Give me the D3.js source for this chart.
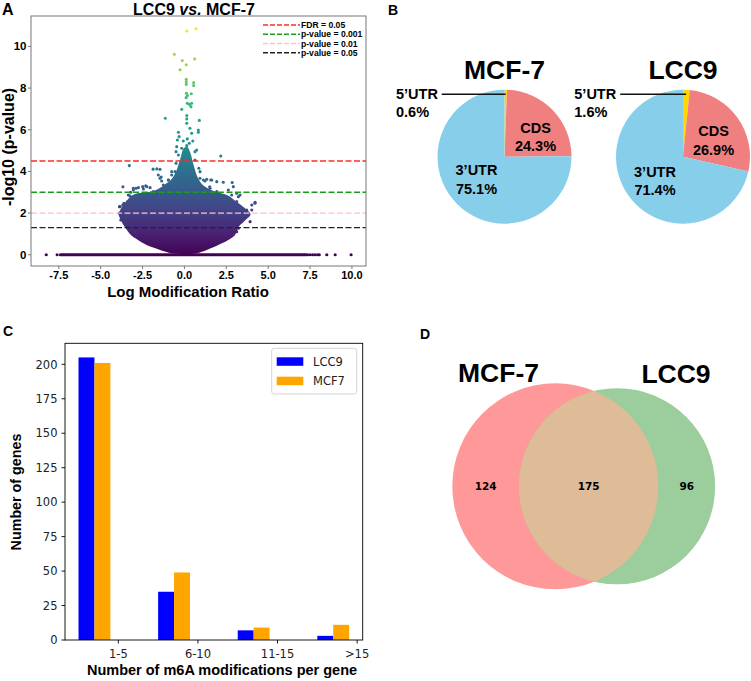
<!DOCTYPE html>
<html><head><meta charset="utf-8">
<script src="https://cdn.jsdelivr.net/npm/d3@7"></script>
<style>
body{margin:0;background:#fff;}
svg{display:block;}
.b{font-family:"Liberation Sans",Arial,sans-serif;font-weight:bold;}
.dj{font-family:"DejaVu Sans",sans-serif;}
</style></head>
<body>
<svg id="fig" width="751" height="681"></svg>
<script>
// ---------------- DATA ----------------
// Panel A: volcano plot
const volcanoXTicks = [-7.5, -5.0, -2.5, 0.0, 2.5, 5.0, 7.5, 10.0];
const volcanoYTicks = [0, 2, 4, 6, 8, 10];
const thresholdNames = ["FDR = 0.05", "p-value = 0.001", "p-value = 0.01", "p-value = 0.05"];
const thresholdValues = [4.5, 3, 2, 1.3];
// dense cloud: upper outline (left -> right) and lower outline (right -> left)
const cloudTop = [[-3.92,1.95],[-3.8,2.2],[-3.55,2.5],[-3.2,2.8],[-2.8,2.95],[-2.2,3.0],[-1.6,3.15],[-1.2,3.35],[-0.8,3.6],[-0.5,4.0],[-0.25,4.6],[-0.05,5.1],[0.15,5.2],[0.35,4.9],[0.55,4.3],[0.8,3.7],[1.1,3.35],[1.5,3.15],[2.0,3.0],[2.6,2.85],[3.1,2.55],[3.6,2.25],[3.95,1.95]];
const cloudBottom = [[3.7,1.7],[3.22,1.32],[3.02,0.95],[2.7,0.75],[2.23,0.55],[1.8,0.38],[1.33,0.23],[0.73,0.07],[0,0.03],[-0.76,0.07],[-1.45,0.23],[-2.0,0.38],[-2.45,0.55],[-2.9,0.78],[-3.2,0.95],[-3.55,1.32],[-3.82,1.7]];
// individual sparse points
const sparsePoints = [[0.14,10.74],[0.69,10.85],[-0.6,9.62],[-0.13,9.32],[0.61,9.40],[0.11,9.12],[-0.26,8.88],
[0.11,8.42],[0.11,8.31],[0.11,8.18],[0.55,8.26],[0.55,8.12],[0.12,7.75],[0.18,7.64],[0.1,7.54],[0.41,7.73],
[0.17,7.27],[0.29,7.22],[0.43,7.27],[0.39,7.11],[-0.16,6.98],[-1.14,6.55],[0.89,6.45],[0.14,6.68],[0.14,6.52],[0.14,6.31],
[0.33,6.07],[0.43,5.83],[0.83,5.99],[0.83,5.88],[-0.36,5.88],[-0.32,5.67],[-0.42,5.51],[-0.07,5.46],[0.17,5.56],[0.29,5.35],[0.5,5.46],
[-0.46,5.19],[-0.16,5.11],[0.14,5.24],[0.63,4.95],[-0.5,4.95],
[-3.29,4.28],[2.17,4.74],[-1.56,3.83],[-1.46,4.1],[-0.76,3.99],[-0.96,3.59],[0.93,3.99],[1.13,3.59],[1.33,3.62],[2.32,3.48],
[2.62,3.11],[2.82,2.87],[4.22,2.52],[4.02,2.39],[3.72,2.15],[3.82,1.99],[-2.49,3.27],[-2.25,3.27],[-2.89,3.19],[-3.05,3.11],
[-3.25,2.82],[-3.38,2.55],[-3.68,2.39],[-3.88,2.31],[-3.84,1.99],[3.32,2.87],[3.12,2.55],[2.92,3.27],[1.93,3.51],[1.63,3.59],
[-1.26,3.35],[-0.36,4.79],[-0.5,4.39],[0.73,5.03],[0.63,4.55],[-1.87,4.11],[-1.39,3.73],[0.86,4.15],[2.85,3.47],[-3.67,3.26],[-2.31,3.31],[1.51,3.26],[1.91,2.95],
[-1.65,4.12],[-1.46,3.67],[-1.36,3.54],[-0.96,3.59],[-0.76,3.83],[-0.56,3.99],[0.53,3.99],[0.93,3.67],[1.23,3.54],[1.57,3.59],
[3.12,2.95],[3.22,2.79],[4.21,2.47],[-3.05,3.19],[-2.75,3.22],[-2.45,3.16],[-2.05,3.22],[-3.35,2.87],[-3.21,3.0],[-3.61,2.47],
[-3.84,2.31],[-3.89,1.99],[-3.8,1.67],[4.02,2.15],[3.82,1.91],[3.92,1.59],[3.42,1.59],[3.22,1.27],[3.12,1.11],[-3.25,1.43],[-3.15,1.19],
[-1.06,3.35],[-0.86,3.11],[-1.26,3.11],[0.73,3.35],[1.13,3.11],[1.53,3.19],[1.93,3.03],[2.13,2.87],[-2.25,2.95],[-1.86,3.03]];
const zeroRowRange = [-7.4, 7.25];
const zeroRowPoints = [-8.25, -7.6, 7.35, 7.5, 7.65, 7.8, 7.95, 8.05, 8.5, 9.0, 9.95];

// Panel B: pies
const regionNames = ["5\u2019UTR", "CDS", "3\u2019UTR"];
const mcf7Share = [0.6, 24.3, 75.1];
const lcc9Share = [1.6, 26.9, 71.4];

// Panel C: bars
const bins = ["1-5", "6-10", "11-15", ">15"];
const lcc9Genes = [205, 35, 7, 3];
const mcf7Genes = [201, 49, 9, 11];
const barYTicks = [0, 25, 50, 75, 100, 125, 150, 175, 200];

// Panel D: venn
const vennSets = ["MCF-7", "LCC9"];
const vennCounts = [124, 175, 96]; // MCF-7 only, both, LCC9 only

// ---------------- DRAW ----------------
const svg = d3.select("#fig");
const defs = svg.append("defs");

// ===== Panel A =====
const xA = d3.scaleLinear().domain([-9.16, 10.84]).range([31, 366]);
const yA = d3.scaleLinear().domain([-0.54, 11.46]).range([266, 16]);
const vmax = 10.85;
const col = v => d3.interpolateViridis(Math.max(0, Math.min(1, v / vmax)));
const gA = svg.append("g");

const grad = defs.append("linearGradient").attr("id","vgrad").attr("gradientUnits","userSpaceOnUse")
  .attr("x1",0).attr("x2",0).attr("y1",yA(0)).attr("y2",yA(vmax));
d3.range(0,1.0001,0.1).forEach(t=>grad.append("stop").attr("offset",t).attr("stop-color",d3.interpolateViridis(t)));
defs.append("clipPath").attr("id","clipA").append("rect").attr("x",31).attr("y",16).attr("width",335).attr("height",250);
const plotA = gA.append("g").attr("clip-path","url(#clipA)");

// dense cloud
const cloudOutline = cloudTop.concat(cloudBottom);
plotA.append("path").datum(cloudOutline)
  .attr("d", d3.line().x(d=>xA(d[0])).y(d=>yA(d[1])).curve(d3.curveCatmullRomClosed.alpha(0.5)))
  .attr("fill","url(#vgrad)");
// zero row
plotA.append("line").attr("x1",xA(zeroRowRange[0])).attr("x2",xA(zeroRowRange[1]))
  .attr("y1",yA(0)).attr("y2",yA(0)).attr("stroke",col(0)).attr("stroke-width",3.2).attr("stroke-linecap","round");
plotA.selectAll(".z").data(zeroRowPoints).join("circle")
  .attr("cx",d=>xA(d)).attr("cy",yA(0)).attr("r",1.6).attr("fill",col(0));
// sparse points
plotA.selectAll(".s").data(sparsePoints).join("circle")
  .attr("cx",d=>xA(d[0])).attr("cy",d=>yA(d[1])).attr("r",1.55).attr("fill",d=>col(d[1]));

// threshold lines
const thrColors = ["#ff2a2a","#1a9e1a","#ffc0cb","#222"];
plotA.selectAll(".t").data(thresholdValues).join("line")
  .attr("x1",31).attr("x2",366).attr("y1",d=>yA(d)).attr("y2",d=>yA(d))
  .attr("stroke",(d,i)=>thrColors[i]).attr("stroke-width",1.3).attr("stroke-dasharray","6,2.5");

// frame
gA.append("rect").attr("x",31).attr("y",16).attr("width",335).attr("height",250)
  .attr("fill","none").attr("stroke","#777").attr("stroke-width",1);
gA.selectAll(".xt").data(volcanoXTicks).join("line")
  .attr("x1",d=>xA(d)).attr("x2",d=>xA(d)).attr("y1",266).attr("y2",269).attr("stroke","#777");
gA.selectAll(".xtl").data(volcanoXTicks).join("text").attr("class","b")
  .attr("x",d=>xA(d)).attr("y",278.5).attr("text-anchor","middle").attr("font-size",11)
  .text(d=>d.toFixed(1));
gA.selectAll(".yt").data(volcanoYTicks).join("line")
  .attr("x1",28).attr("x2",31).attr("y1",d=>yA(d)).attr("y2",d=>yA(d)).attr("stroke","#777");
gA.selectAll(".ytl").data(volcanoYTicks).join("text").attr("class","b")
  .attr("x",26.5).attr("y",d=>yA(d)+4).attr("text-anchor","end").attr("font-size",11.5)
  .text(d=>d);
gA.append("text").attr("class","b").attr("x",188).attr("y",297).attr("text-anchor","middle")
  .attr("font-size",15).text("Log Modification Ratio");
gA.append("text").attr("class","b").attr("transform","translate(14,147) rotate(-90)")
  .attr("text-anchor","middle").attr("font-size",16).text("-log10 (p-value)");
const tA = gA.append("text").attr("class","b").attr("x",194).attr("y",15).attr("text-anchor","middle").attr("font-size",16);
tA.append("tspan").text("LCC9 ");
tA.append("tspan").attr("font-style","italic").text("vs.");
tA.append("tspan").text(" MCF-7");
gA.append("text").attr("class","b").attr("x",2).attr("y",15).attr("font-size",16).text("A");
const legA = gA.append("g");
thresholdNames.forEach((n,i)=>{
  const yy = 25 + i*9.25;
  legA.append("line").attr("x1",263).attr("x2",300).attr("y1",yy).attr("y2",yy)
    .attr("stroke",thrColors[i]).attr("stroke-width",1.3).attr("stroke-dasharray","5,2");
  legA.append("text").attr("class","b").attr("x",301).attr("y",yy+3).attr("font-size",8.6).text(n);
});

// ===== Panel B =====
const pieColors = ["#ffd700","#f08080","#87ceeb"];
const pieGen = d3.pie().sort(null).value(d=>d);
const arcB = d3.arc().innerRadius(0).outerRadius(67);
function drawPie(cx, cy, shares, title, lblPos, smallLbl) {
  const g = svg.append("g").attr("transform",`translate(${cx},${cy})`);
  g.selectAll("path").data(pieGen(shares)).join("path").attr("d",arcB).attr("fill",(d,i)=>pieColors[i]);
  svg.append("text").attr("class","b").attr("x",cx).attr("y",cy-77.5).attr("text-anchor","middle")
    .attr("font-size",26.5).text(title);
  [1,2].forEach(i=>{
    const p = lblPos[i];
    svg.append("text").attr("class","b").attr("x",cx+p[0]).attr("y",cy+p[1]).attr("text-anchor","middle")
      .attr("font-size",14.5).text(regionNames[i]);
    svg.append("text").attr("class","b").attr("x",cx+p[0]).attr("y",cy+p[1]+18.5).attr("text-anchor","middle")
      .attr("font-size",14.5).text(shares[i].toFixed(1)+"%");
  });
  svg.append("text").attr("class","b").attr("x",cx+smallLbl[0]).attr("y",cy-57.5).attr("font-size",14.5).text(regionNames[0]);
  svg.append("text").attr("class","b").attr("x",cx+smallLbl[0]).attr("y",cy-39.5).attr("font-size",14.5).text(shares[0].toFixed(1)+"%");
  const a0 = pieGen(shares)[0];
  const mid = (a0.startAngle+a0.endAngle)/2;
  const ly = -62.4;
  svg.append("line").attr("x1",cx+smallLbl[1]).attr("x2",cx + (-ly)*Math.tan(mid)).attr("y1",cy+ly).attr("y2",cy+ly)
    .attr("stroke","#111").attr("stroke-width",1.4);
}
drawPie(504.5, 156.7, mcf7Share, "MCF-7", [null,[31,-24],[-28,18.5]], [-108.5,-62.8]);
drawPie(683, 156.7, lcc9Share, "LCC9", [null,[30.5,-20.5],[-28,20]], [-108.7,-62.8]);
svg.append("text").attr("class","b").attr("x",388).attr("y",15).attr("font-size",14).text("B");

// ===== Panel C =====
const xC = d3.scaleLinear().domain([-0.27, 3.47]).range([65, 362.7]);
const yC = d3.scaleLinear().domain([0, 215.25]).range([640, 343.3]);
const gC = svg.append("g");
const bw = 0.2;
gC.selectAll(".bl").data(lcc9Genes).join("rect")
  .attr("x",(d,i)=>xC(i-bw/2)).attr("width",xC(bw)-xC(0)).attr("y",d=>yC(d)).attr("height",d=>yC(0)-yC(d)).attr("fill","#0000ff");
gC.selectAll(".bm").data(mcf7Genes).join("rect")
  .attr("x",(d,i)=>xC(i+bw/2)).attr("width",xC(bw)-xC(0)).attr("y",d=>yC(d)).attr("height",d=>yC(0)-yC(d)).attr("fill","#ffa500");
gC.append("rect").attr("x",65).attr("y",343.3).attr("width",297.7).attr("height",296.7)
  .attr("fill","none").attr("stroke","#000").attr("stroke-width",0.9);
gC.selectAll(".cxt").data(bins).join("line")
  .attr("x1",(d,i)=>xC(i+0.4)).attr("x2",(d,i)=>xC(i+0.4)).attr("y1",640).attr("y2",643.5).attr("stroke","#000").attr("stroke-width",0.9);
gC.selectAll(".cxl").data(bins).join("text").attr("class","dj")
  .attr("x",(d,i)=>xC(i+0.4)).attr("y",657.5).attr("text-anchor","middle").attr("font-size",11.5).attr("fill","#222").text(d=>d);
gC.selectAll(".cyt").data(barYTicks).join("line")
  .attr("x1",61.5).attr("x2",65).attr("y1",d=>yC(d)).attr("y2",d=>yC(d)).attr("stroke","#000").attr("stroke-width",0.9);
gC.selectAll(".cyl").data(barYTicks).join("text").attr("class","dj")
  .attr("x",57.5).attr("y",d=>yC(d)+4.2).attr("text-anchor","end").attr("font-size",11.5).attr("fill","#222").text(d=>d);
gC.append("text").attr("class","b").attr("x",222).attr("y",675).attr("text-anchor","middle").attr("font-size",14.5)
  .text("Number of m6A modifications per gene");
gC.append("text").attr("class","b").attr("transform","translate(21,492) rotate(-90)").attr("text-anchor","middle")
  .attr("font-size",14.3).text("Number of genes");
gC.append("rect").attr("x",271.7).attr("y",348.3).attr("width",85).attr("height",45.7).attr("rx",2.5)
  .attr("fill","#fff").attr("stroke","#d0d0d0").attr("stroke-width",0.9);
[["LCC9","#0000ff"],["MCF7","#ffa500"]].forEach((e,i)=>{
  gC.append("rect").attr("x",276.7).attr("y",357.3+i*19.4).attr("width",26.6).attr("height",8.5).attr("fill",e[1]);
  gC.append("text").attr("class","dj").attr("x",313).attr("y",366+i*19.4).attr("font-size",11.5).attr("fill","#222").text(e[0]);
});
svg.append("text").attr("class","b").attr("x",3).attr("y",336).attr("font-size",14).text("C");

// ===== Panel D =====
const k = 5.957; // px per sqrt(count)
const totA = vennCounts[0]+vennCounts[1], totB = vennCounts[1]+vennCounts[2];
const rA = k*Math.sqrt(totA), rB = k*Math.sqrt(totB);
const target = Math.PI*k*k*vennCounts[1];
function lens(d,r1,r2){
  const a1 = r1*r1*Math.acos((d*d+r1*r1-r2*r2)/(2*d*r1));
  const a2 = r2*r2*Math.acos((d*d+r2*r2-r1*r1)/(2*d*r2));
  const t = 0.5*Math.sqrt((-d+r1+r2)*(d+r1-r2)*(d-r1+r2)*(d+r1+r2));
  return a1+a2-t;
}
let lo = Math.abs(rA-rB)+0.01, hi = rA+rB-0.01;
for (let it=0; it<60; it++){ const m=(lo+hi)/2; if (lens(m,rA,rB)>target) lo=m; else hi=m; }
const dist = (lo+hi)/2;
const cxA = 555.3, cyV = 486.3, cxB = cxA + dist;
const gD = svg.append("g");
gD.append("circle").attr("cx",cxA).attr("cy",cyV).attr("r",rA).attr("fill","#ff9999");
gD.append("circle").attr("cx",cxB).attr("cy",cyV).attr("r",rB).attr("fill","#9ccd9c");
defs.append("clipPath").attr("id","clipV").append("circle").attr("cx",cxA).attr("cy",cyV).attr("r",rA);
gD.append("circle").attr("cx",cxB).attr("cy",cyV).attr("r",rB).attr("fill","#dfbc98").attr("clip-path","url(#clipV)");
const lblX = [((cxA-rA)+(cxB-rB))/2, ((cxB-rB)+(cxA+rA))/2, ((cxA+rA)+(cxB+rB))/2];
gD.selectAll(".vl").data(vennCounts).join("text").attr("class","dj")
  .attr("x",(d,i)=>lblX[i]).attr("y",cyV+3.5).attr("text-anchor","middle").attr("font-size",10.5).attr("font-weight","bold")
  .text(d=>d);
gD.append("text").attr("class","b").attr("x",498.5).attr("y",381.5).attr("text-anchor","middle").attr("font-size",26.5).text(vennSets[0]);
gD.append("text").attr("class","b").attr("x",676).attr("y",383.3).attr("text-anchor","middle").attr("font-size",26.5).text(vennSets[1]);
svg.append("text").attr("class","b").attr("x",420).attr("y",339).attr("font-size",14).text("D");
</script>
</body></html>
